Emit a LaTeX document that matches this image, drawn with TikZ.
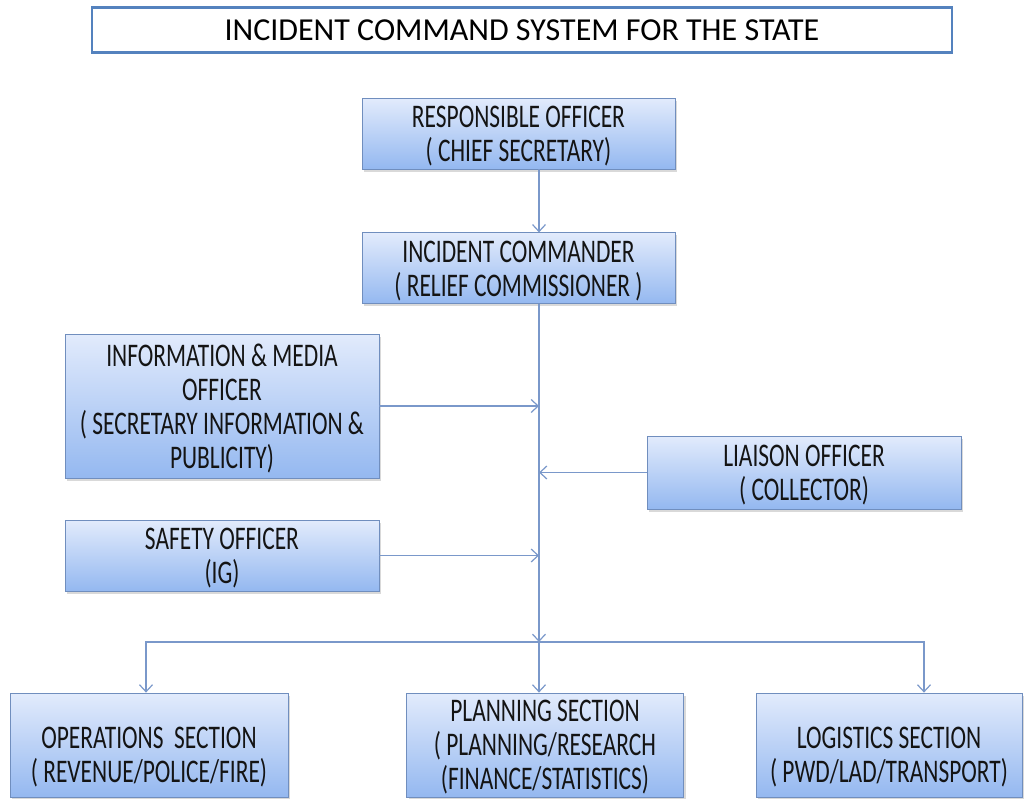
\documentclass[tikz,border=0pt]{standalone}
\usepackage{fontspec}
\setmainfont{Carlito}[FakeStretch=0.71]
\newfontfamily\titlefont{Carlito}
\usepackage{tikz}
\usetikzlibrary{arrows.meta,positioning,shadows}

\definecolor{boxtop}{RGB}{226,235,252}
\definecolor{boxbottom}{RGB}{148,184,240}
\definecolor{boxline}{RGB}{112,142,190}
\definecolor{linkblue}{RGB}{122,152,202}
\definecolor{titleline}{RGB}{84,130,190}

\begin{document}
\begin{tikzpicture}[x=1pt,y=-1pt,->,>={Straight Barb[length=7pt,width=13pt]}, color=linkblue, line width=1.2pt, node distance=63pt, font=\fontsize{33}{34}\selectfont]

    \tikzstyle{heading}=[draw=titleline, line width=2.6pt, fill=white, text=black, inner sep=0pt, minimum width=860pt, minimum height=45pt, font=\titlefont\fontsize{32}{34}\selectfont]
    \tikzstyle{officer}=[draw=boxline, line width=0.8pt, top color=boxtop, bottom color=boxbottom, text=black!92, align=center, inner sep=0pt, text depth=0pt, drop shadow={opacity=0.3, shadow xshift=2pt, shadow yshift=-2.5pt}]

    \useasboundingbox (0,0) rectangle (1028,798);

    \node[heading] (ics) at (522,30) {INCIDENT COMMAND SYSTEM FOR THE STATE};

    \node[officer, minimum width=313pt, minimum height=71pt] (resp) at (518.5,133.5) {RESPONSIBLE OFFICER\\( CHIEF SECRETARY)};
    \node[officer, minimum width=313pt, minimum height=71pt] (comm) [below=of resp] {INCIDENT COMMANDER\\( RELIEF COMMISSIONER )};

    \node[officer, minimum width=314pt, minimum height=144pt] (info) at (222,406) {INFORMATION \& MEDIA\\OFFICER\\( SECRETARY INFORMATION \&\\PUBLICITY)};
    \node[officer, minimum width=314pt, minimum height=73pt] (liaison) at (804,472.5) {LIAISON OFFICER\\( COLLECTOR)};
    \node[officer, minimum width=314pt, minimum height=71pt] (safety) at (222,555.5) {SAFETY OFFICER\\(IG)};

    \node[officer, minimum width=278pt, minimum height=104pt, text height=75pt] (ops) at (149,745) {OPERATIONS\ \ SECTION\\( REVENUE/POLICE/FIRE)};
    \node[officer, minimum width=277pt, minimum height=104pt, text depth=-8pt] (plan) at (545,745) {PLANNING SECTION\\( PLANNING/RESEARCH\\(FINANCE/STATISTICS)};
    \node[officer, minimum width=266pt, minimum height=104pt, text height=75pt] (logi) at (889,745) {LOGISTICS SECTION\\( PWD/LAD/TRANSPORT)};

    \coordinate (trunk) at (539,0);
    \coordinate (fork) at (trunk |- 0,642);
    \coordinate (opsend) at (146,642);
    \coordinate (logend) at (924,642);

    \draw (resp.south -| trunk) -- (comm.north -| trunk);
    \draw (comm.south -| trunk) -- (fork);
    \draw (info.east) -- (info.east -| trunk);
    \draw (liaison.west) -- (liaison.west -| trunk);
    \draw (safety.east) -- (safety.east -| trunk);

    \draw (fork) -- (fork |- plan.north);
    \draw (fork) -- (opsend) -- (opsend |- ops.north);
    \draw (fork) -- (logend) -- (logend |- logi.north);
\end{tikzpicture}
\end{document}
